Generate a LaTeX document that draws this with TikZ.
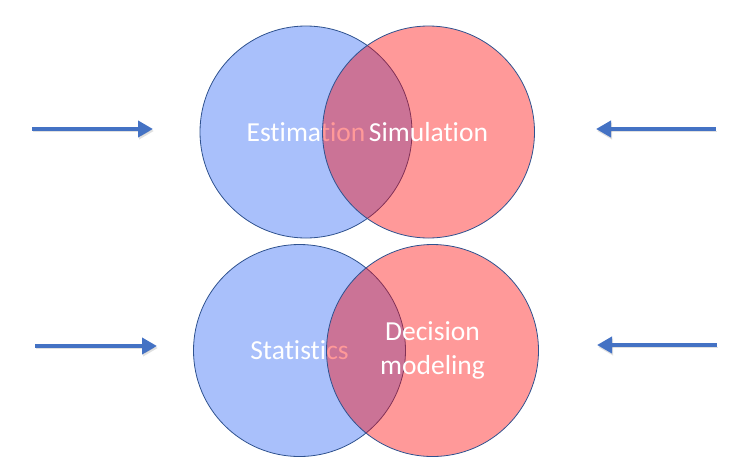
\documentclass[tikz,border=0pt]{standalone}
\usepackage{fontspec}
\setmainfont{Carlito}[RawFeature={-liga,-clig,-dlig}]
\usetikzlibrary{arrows.meta, positioning}

\definecolor{vennblue}{RGB}{169,192,251}
\definecolor{vennedge}{RGB}{47,82,143}
\definecolor{arrowblue}{RGB}{68,114,196}

\tikzset{
  venn/.style={circle, draw=vennedge, line width=0.8pt, minimum size=212pt,
    inner sep=0pt, text=white, align=center,
    font=\fontsize{27.5}{34}\selectfont},
  left set/.style={venn, fill=vennblue},
  right set/.style={venn, fill=red, fill opacity=0.4, text opacity=1},
  feed/.style={-{Triangle[length=15pt,width=16pt]}, line width=4.5pt,
    draw=arrowblue,
    preaction={draw=black, opacity=0.12, transform canvas={xshift=1pt,yshift=-2pt}}}
}

\begin{document}
\begin{tikzpicture}[x=1pt, y=-1pt, on grid]
  \useasboundingbox (0,0) rectangle (749,464);

  % upper pair
  \node[left set] (est) at (306,132) {Estimation};
  \node[right set] (sim) [right=122.5pt of est] {Simulation};

  % lower pair
  \node[left set] (stat) at (299.5,350.5) {Statistics};
  \node[right set] (dec) [right=133pt of stat] {Decision\\modeling};

  % arrow ends
  \coordinate (ul) at (32,129);
  \coordinate (ul') at (153,129);
  \coordinate (ur) at (716,129);
  \coordinate (ur') at (596,129);
  \coordinate (ll) at (35,346);
  \coordinate (ll') at (157,346);
  \coordinate (lr) at (717,345);
  \coordinate (lr') at (597,345);

  \draw[feed] (ul) -- (ul');
  \draw[feed] (ur) -- (ur');
  \draw[feed] (ll) -- (ll');
  \draw[feed] (lr) -- (lr');
\end{tikzpicture}
\end{document}
